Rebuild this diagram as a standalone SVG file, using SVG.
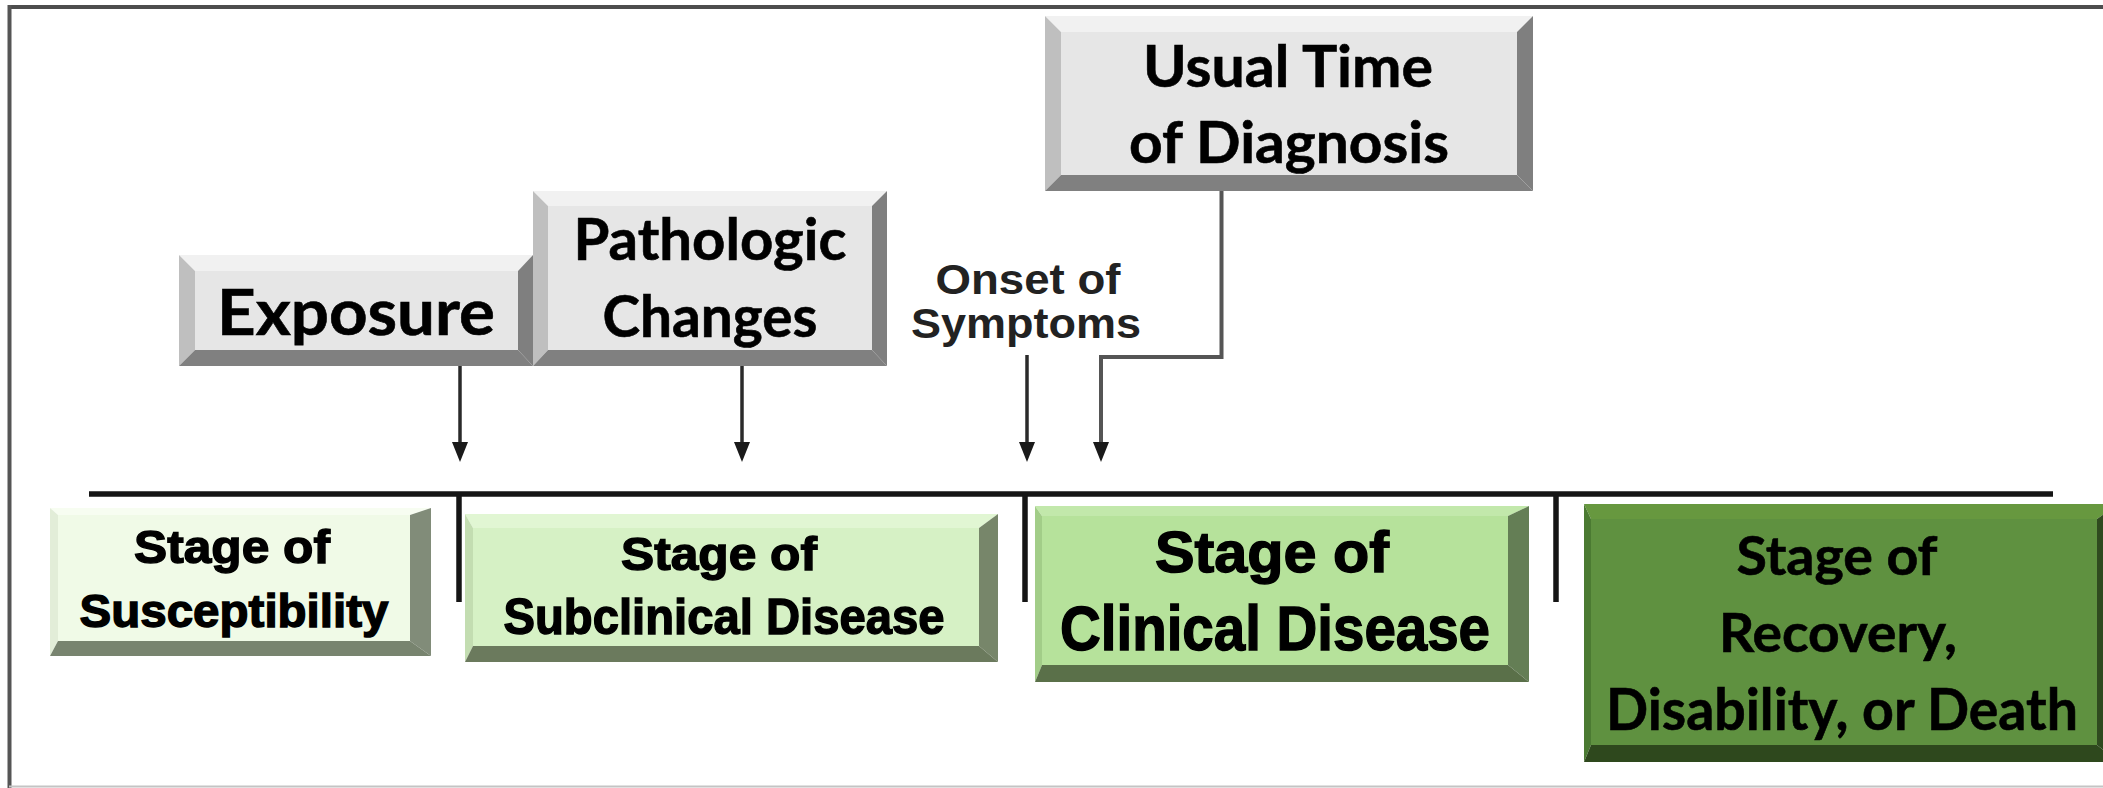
<svg xmlns="http://www.w3.org/2000/svg" width="2103" height="788" viewBox="0 0 2103 788">
<defs>
<style>
.cal{font-family:"Lato","Open Sans","Liberation Sans",sans-serif;font-weight:700;fill:#000;text-anchor:middle;stroke:#000;stroke-width:0.6}
.fut{font-family:"Liberation Sans","DejaVu Sans",sans-serif;font-weight:700;fill:#000;text-anchor:middle;stroke:#000;stroke-width:1.4}
.hel{font-family:"Liberation Sans","DejaVu Sans",sans-serif;font-weight:700;fill:#222;text-anchor:middle}
.g-top{fill:#f1f1f1}.g-left{fill:#bfbfbf}.g-right{fill:#7f7f7f}.g-bot{fill:#808080}.g-face{fill:#e6e6e6}
.arrow{stroke:#2a2a2a;stroke-width:3.5;fill:none}
.tick{stroke:#151515;stroke-width:5.5;fill:none}
.head{fill:#1a1a1a}
</style>
</defs>
<rect x="0" y="0" width="2103" height="788" fill="#fff"/>
<g id="frame">
<line x1="9.5" y1="7" x2="2103" y2="7" stroke="#4d4d4d" stroke-width="4"/>
<line x1="9.5" y1="5" x2="9.5" y2="788" stroke="#555" stroke-width="4"/>
<line x1="9" y1="786.5" x2="2103" y2="786.5" stroke="#c4c4c4" stroke-width="2"/>
</g>
<g id="connectors">
<line class="tick" x1="89" y1="494" x2="2053" y2="494"/>
<line class="tick" x1="459" y1="494" x2="459" y2="602"/>
<line class="tick" x1="1025" y1="494" x2="1025" y2="602"/>
<line class="tick" x1="1556" y1="494" x2="1556" y2="602"/>
<path class="arrow" d="M460,366 V444"/>
<polygon class="head" points="452,442 468,442 460,462"/>
<path class="arrow" d="M742,366 V444"/>
<polygon class="head" points="734,442 750,442 742,462"/>
<path class="arrow" d="M1027,355 V444"/>
<polygon class="head" points="1019,442 1035,442 1027,462"/>
<path d="M1221.5,191 V357 H1101 V444" stroke="#555" stroke-width="4" fill="none"/>
<polygon class="head" points="1093,442 1109,442 1101,462"/>
</g>
<g id="exposure">
<polygon class="g-top" points="179,255 533,255 518,271 195,271"/>
<polygon class="g-left" points="179,255 195,271 195,350 179,366"/>
<polygon class="g-right" points="533,255 533,366 518,350 518,271"/>
<polygon class="g-bot" points="179,366 195,350 518,350 533,366"/>
<rect class="g-face" x="195" y="271" width="323" height="79"/>
<text class="cal" x="356" y="335" font-size="64" textLength="278" lengthAdjust="spacingAndGlyphs">Exposure</text>
</g>
<g id="pathologic">
<polygon class="g-top" points="533,191 887,191 872,206 548,206"/>
<polygon class="g-left" points="533,191 548,206 548,350 533,366"/>
<polygon class="g-right" points="887,191 887,366 872,350 872,206"/>
<polygon class="g-bot" points="533,366 548,350 872,350 887,366"/>
<rect class="g-face" x="548" y="206" width="324" height="144"/>
<text class="cal" x="710" y="260" font-size="58" textLength="273" lengthAdjust="spacingAndGlyphs">Pathologic</text>
<text class="cal" x="710" y="337" font-size="58" textLength="215" lengthAdjust="spacingAndGlyphs">Changes</text>
</g>
<g id="diagnosis">
<polygon class="g-top" points="1045,16 1533,16 1517,32 1061,32"/>
<polygon class="g-left" points="1045,16 1061,32 1061,175 1045,191"/>
<polygon class="g-right" points="1533,16 1533,191 1517,175 1517,32"/>
<polygon class="g-bot" points="1045,191 1061,175 1517,175 1533,191"/>
<rect class="g-face" x="1061" y="32" width="456" height="143"/>
<text class="cal" x="1288" y="87" font-size="58" textLength="290" lengthAdjust="spacingAndGlyphs">Usual Time</text>
<text class="cal" x="1289" y="163" font-size="58" textLength="320" lengthAdjust="spacingAndGlyphs">of Diagnosis</text>
</g>
<g id="onset">
<text class="hel" x="1028" y="294" font-size="42" textLength="185" lengthAdjust="spacingAndGlyphs">Onset of</text>
<text class="hel" x="1026" y="338" font-size="42" textLength="230" lengthAdjust="spacingAndGlyphs">Symptoms</text>
</g>
<g id="susceptibility">
<polygon fill="#f7fdf1" points="50,508 431,508 410,515 58,515"/>
<polygon fill="#e2edd8" points="50,508 58,515 58,641 50,656"/>
<polygon fill="#818c79" points="431,508 431,656 410,641 410,515"/>
<polygon fill="#78846f" points="50,656 58,641 410,641 431,656"/>
<rect fill="#f0fae7" x="58" y="515" width="352" height="126"/>
<text class="fut" x="232" y="563" font-size="47" textLength="196" lengthAdjust="spacingAndGlyphs">Stage of</text>
<text class="fut" x="234" y="627" font-size="47" textLength="309" lengthAdjust="spacingAndGlyphs">Susceptibility</text>
</g>
<g id="subclinical">
<polygon fill="#e1f6d3" points="465,514 998,514 979,528 473,528"/>
<polygon fill="#c3ddb1" points="465,514 473,528 473,646 465,662"/>
<polygon fill="#77866a" points="998,514 998,662 979,646 979,528"/>
<polygon fill="#6b7a5d" points="465,662 473,646 979,646 998,662"/>
<rect fill="#d6f1c5" x="473" y="528" width="506" height="118"/>
<text class="fut" x="719" y="570" font-size="47" textLength="196" lengthAdjust="spacingAndGlyphs">Stage of</text>
<text class="fut" x="724" y="634" font-size="50" textLength="441" lengthAdjust="spacingAndGlyphs">Subclinical Disease</text>
</g>
<g id="clinical">
<polygon fill="#c2e8ab" points="1035,506 1529,506 1508,516 1042,516"/>
<polygon fill="#a2cd88" points="1035,506 1042,516 1042,665 1035,682"/>
<polygon fill="#647e55" points="1529,506 1529,682 1508,665 1508,516"/>
<polygon fill="#5a7049" points="1035,682 1042,665 1508,665 1529,682"/>
<rect fill="#b6e29b" x="1042" y="516" width="466" height="149"/>
<text class="fut" x="1272" y="572" font-size="57" textLength="234" lengthAdjust="spacingAndGlyphs">Stage of</text>
<text class="fut" x="1275" y="650" font-size="63" textLength="430" lengthAdjust="spacingAndGlyphs">Clinical Disease</text>
</g>
<g id="recovery">
<polygon fill="#67983f" points="1584,504 2118,504 2097,519 1591,519"/>
<polygon fill="#4b7a32" points="1584,504 1591,519 1591,745 1584,762"/>
<polygon fill="#2f4a1f" points="2118,504 2118,762 2097,745 2097,519"/>
<polygon fill="#2e481d" points="1584,762 1591,745 2097,745 2118,762"/>
<rect fill="#5f9140" x="1591" y="519" width="506" height="226"/>
<text class="cal" x="1837" y="575" font-size="53" textLength="201" lengthAdjust="spacingAndGlyphs">Stage of</text>
<text class="cal" x="1838" y="652" font-size="54" textLength="238" lengthAdjust="spacingAndGlyphs">Recovery,</text>
<text class="cal" x="1842" y="730" font-size="58" textLength="472" lengthAdjust="spacingAndGlyphs">Disability, or Death</text>
</g>
</svg>
